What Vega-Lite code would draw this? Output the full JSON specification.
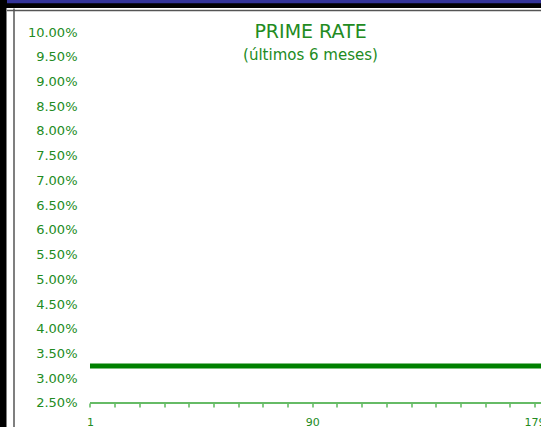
{
  "$schema": "https://vega.github.io/schema/vega-lite/v6.json",
  "autosize": {"type": "none"},
  "padding": {"left": 6.5, "top": 8, "right": 0, "bottom": 0},
  "width": 540,
  "height": 432,
  "background": "#000000",
  "title": {
    "text": "PRIME RATE",
    "subtitle": "(últimos 6 meses)",
    "font": "DejaVu Sans",
    "fontSize": 19,
    "fontWeight": "normal",
    "color": "#228B22",
    "subtitleFont": "DejaVu Sans",
    "subtitleFontSize": 15,
    "subtitleColor": "#228B22",
    "subtitlePadding": 6,
    "anchor": "middle",
    "frame": "group",
    "dx": 34,
    "offset": -62
  },
  "resolve": {"axis": {"x": "independent", "y": "independent"}},
  "layer": [
    {
      "data": {"values": [
        {"d":1,"r":3.25},{"d":2,"r":3.25},{"d":3,"r":3.25},{"d":4,"r":3.25},{"d":5,"r":3.25},{"d":6,"r":3.25},{"d":7,"r":3.25},{"d":8,"r":3.25},{"d":9,"r":3.25},{"d":10,"r":3.25},
        {"d":11,"r":3.25},{"d":12,"r":3.25},{"d":13,"r":3.25},{"d":14,"r":3.25},{"d":15,"r":3.25},{"d":16,"r":3.25},{"d":17,"r":3.25},{"d":18,"r":3.25},{"d":19,"r":3.25},{"d":20,"r":3.25},
        {"d":21,"r":3.25},{"d":22,"r":3.25},{"d":23,"r":3.25},{"d":24,"r":3.25},{"d":25,"r":3.25},{"d":26,"r":3.25},{"d":27,"r":3.25},{"d":28,"r":3.25},{"d":29,"r":3.25},{"d":30,"r":3.25},
        {"d":31,"r":3.25},{"d":32,"r":3.25},{"d":33,"r":3.25},{"d":34,"r":3.25},{"d":35,"r":3.25},{"d":36,"r":3.25},{"d":37,"r":3.25},{"d":38,"r":3.25},{"d":39,"r":3.25},{"d":40,"r":3.25},
        {"d":41,"r":3.25},{"d":42,"r":3.25},{"d":43,"r":3.25},{"d":44,"r":3.25},{"d":45,"r":3.25},{"d":46,"r":3.25},{"d":47,"r":3.25},{"d":48,"r":3.25},{"d":49,"r":3.25},{"d":50,"r":3.25},
        {"d":51,"r":3.25},{"d":52,"r":3.25},{"d":53,"r":3.25},{"d":54,"r":3.25},{"d":55,"r":3.25},{"d":56,"r":3.25},{"d":57,"r":3.25},{"d":58,"r":3.25},{"d":59,"r":3.25},{"d":60,"r":3.25},
        {"d":61,"r":3.25},{"d":62,"r":3.25},{"d":63,"r":3.25},{"d":64,"r":3.25},{"d":65,"r":3.25},{"d":66,"r":3.25},{"d":67,"r":3.25},{"d":68,"r":3.25},{"d":69,"r":3.25},{"d":70,"r":3.25},
        {"d":71,"r":3.25},{"d":72,"r":3.25},{"d":73,"r":3.25},{"d":74,"r":3.25},{"d":75,"r":3.25},{"d":76,"r":3.25},{"d":77,"r":3.25},{"d":78,"r":3.25},{"d":79,"r":3.25},{"d":80,"r":3.25},
        {"d":81,"r":3.25},{"d":82,"r":3.25},{"d":83,"r":3.25},{"d":84,"r":3.25},{"d":85,"r":3.25},{"d":86,"r":3.25},{"d":87,"r":3.25},{"d":88,"r":3.25},{"d":89,"r":3.25},{"d":90,"r":3.25},
        {"d":91,"r":3.25},{"d":92,"r":3.25},{"d":93,"r":3.25},{"d":94,"r":3.25},{"d":95,"r":3.25},{"d":96,"r":3.25},{"d":97,"r":3.25},{"d":98,"r":3.25},{"d":99,"r":3.25},{"d":100,"r":3.25},
        {"d":101,"r":3.25},{"d":102,"r":3.25},{"d":103,"r":3.25},{"d":104,"r":3.25},{"d":105,"r":3.25},{"d":106,"r":3.25},{"d":107,"r":3.25},{"d":108,"r":3.25},{"d":109,"r":3.25},{"d":110,"r":3.25},
        {"d":111,"r":3.25},{"d":112,"r":3.25},{"d":113,"r":3.25},{"d":114,"r":3.25},{"d":115,"r":3.25},{"d":116,"r":3.25},{"d":117,"r":3.25},{"d":118,"r":3.25},{"d":119,"r":3.25},{"d":120,"r":3.25},
        {"d":121,"r":3.25},{"d":122,"r":3.25},{"d":123,"r":3.25},{"d":124,"r":3.25},{"d":125,"r":3.25},{"d":126,"r":3.25},{"d":127,"r":3.25},{"d":128,"r":3.25},{"d":129,"r":3.25},{"d":130,"r":3.25},
        {"d":131,"r":3.25},{"d":132,"r":3.25},{"d":133,"r":3.25},{"d":134,"r":3.25},{"d":135,"r":3.25},{"d":136,"r":3.25},{"d":137,"r":3.25},{"d":138,"r":3.25},{"d":139,"r":3.25},{"d":140,"r":3.25},
        {"d":141,"r":3.25},{"d":142,"r":3.25},{"d":143,"r":3.25},{"d":144,"r":3.25},{"d":145,"r":3.25},{"d":146,"r":3.25},{"d":147,"r":3.25},{"d":148,"r":3.25},{"d":149,"r":3.25},{"d":150,"r":3.25},
        {"d":151,"r":3.25},{"d":152,"r":3.25},{"d":153,"r":3.25},{"d":154,"r":3.25},{"d":155,"r":3.25},{"d":156,"r":3.25},{"d":157,"r":3.25},{"d":158,"r":3.25},{"d":159,"r":3.25},{"d":160,"r":3.25},
        {"d":161,"r":3.25},{"d":162,"r":3.25},{"d":163,"r":3.25},{"d":164,"r":3.25},{"d":165,"r":3.25},{"d":166,"r":3.25},{"d":167,"r":3.25},{"d":168,"r":3.25},{"d":169,"r":3.25},{"d":170,"r":3.25},
        {"d":171,"r":3.25},{"d":172,"r":3.25},{"d":173,"r":3.25},{"d":174,"r":3.25},{"d":175,"r":3.25},{"d":176,"r":3.25},{"d":177,"r":3.25},{"d":178,"r":3.25},{"d":179,"r":3.25},{"d":180,"r":3.25},
        {"d":181,"r":3.25},{"d":182,"r":3.25}
      ]},
      "mark": {"type": "line", "color": "#008000", "strokeWidth": 5, "strokeCap": "butt"},
      "encoding": {
        "x": {
          "field": "d", "type": "quantitative",
          "scale": {"domain": [-32.43, 183.77], "nice": false, "zero": false},
          "axis": {
            "orient": "bottom", "offset": -37, "title": null, "domain": false, "grid": false,
            "values": [1, 10.8889, 20.7778, 30.6667, 40.5556, 50.4444, 60.3333, 70.2222, 80.1111, 90, 99.8889, 109.7778, 119.6667, 129.5556, 139.4444, 149.3333, 159.2222, 169.1111, 179],
            "labelExpr": "datum.value == 1 || datum.value == 90 || datum.value == 179 ? format(datum.value, 'd') : ''",
            "tickColor": "#5cb85c", "tickWidth": 1.5, "tickSize": 4,
            "labelColor": "#228B22", "labelFont": "DejaVu Sans", "labelFontSize": 11,
            "labelPadding": 9, "labelOverlap": false, "labelFlush": false, "labelBound": false
          }
        },
        "y": {
          "field": "r", "type": "quantitative",
          "scale": {"domain": [1.752, 10.4852], "nice": false, "zero": false},
          "axis": {
            "orient": "left", "offset": -83.5, "title": null, "domain": false, "grid": false,
            "ticks": false, "tickSize": 0,
            "values": [2.5, 3, 3.5, 4, 4.5, 5, 5.5, 6, 6.5, 7, 7.5, 8, 8.5, 9, 9.5, 10],
            "labelExpr": "format(datum.value, '.2f') + '%'",
            "labelColor": "#228B22", "labelFont": "DejaVu Sans", "labelFontSize": 13,
            "labelPadding": 13, "labelOverlap": false, "labelFlush": false, "labelBound": false
          }
        }
      }
    },
    {
      "data": {"values": [{}]},
      "mark": {"type": "rule", "color": "#66bb66", "strokeWidth": 2},
      "encoding": {
        "x": {
          "datum": 1, "type": "quantitative",
          "scale": {"domain": [-32.43, 183.77], "nice": false, "zero": false},
          "axis": {"orient": "top", "offset": 7, "title": null, "grid": false, "ticks": false, "labels": false, "domain": true, "domainColor": "#333399", "domainWidth": 3.5}
        },
        "x2": {"datum": 183.77},
        "y": {
          "datum": 2.5, "type": "quantitative",
          "scale": {"domain": [1.752, 10.4852], "nice": false, "zero": false},
          "axis": {"orient": "left", "offset": -7, "title": null, "grid": false, "ticks": false, "labels": false, "domain": true, "domainColor": "#555555", "domainWidth": 1.5}
        }
      }
    },
    {
      "data": {"values": [{}]},
      "mark": {"type": "rule", "color": "#66bb66", "strokeWidth": 2},
      "encoding": {
        "x": {
          "datum": 1, "type": "quantitative",
          "scale": {"domain": [-32.43, 183.77], "nice": false, "zero": false},
          "axis": {"orient": "top", "offset": -2, "title": null, "grid": false, "ticks": false, "labels": false, "domain": true, "domainColor": "#555555", "domainWidth": 1.5}
        },
        "x2": {"datum": 183.77},
        "y": {
          "datum": 2.5, "type": "quantitative",
          "scale": {"domain": [1.752, 10.4852], "nice": false, "zero": false},
          "axis": null
        }
      }
    }
  ],
  "config": {"view": {"fill": "#ffffff", "stroke": null}}
}
